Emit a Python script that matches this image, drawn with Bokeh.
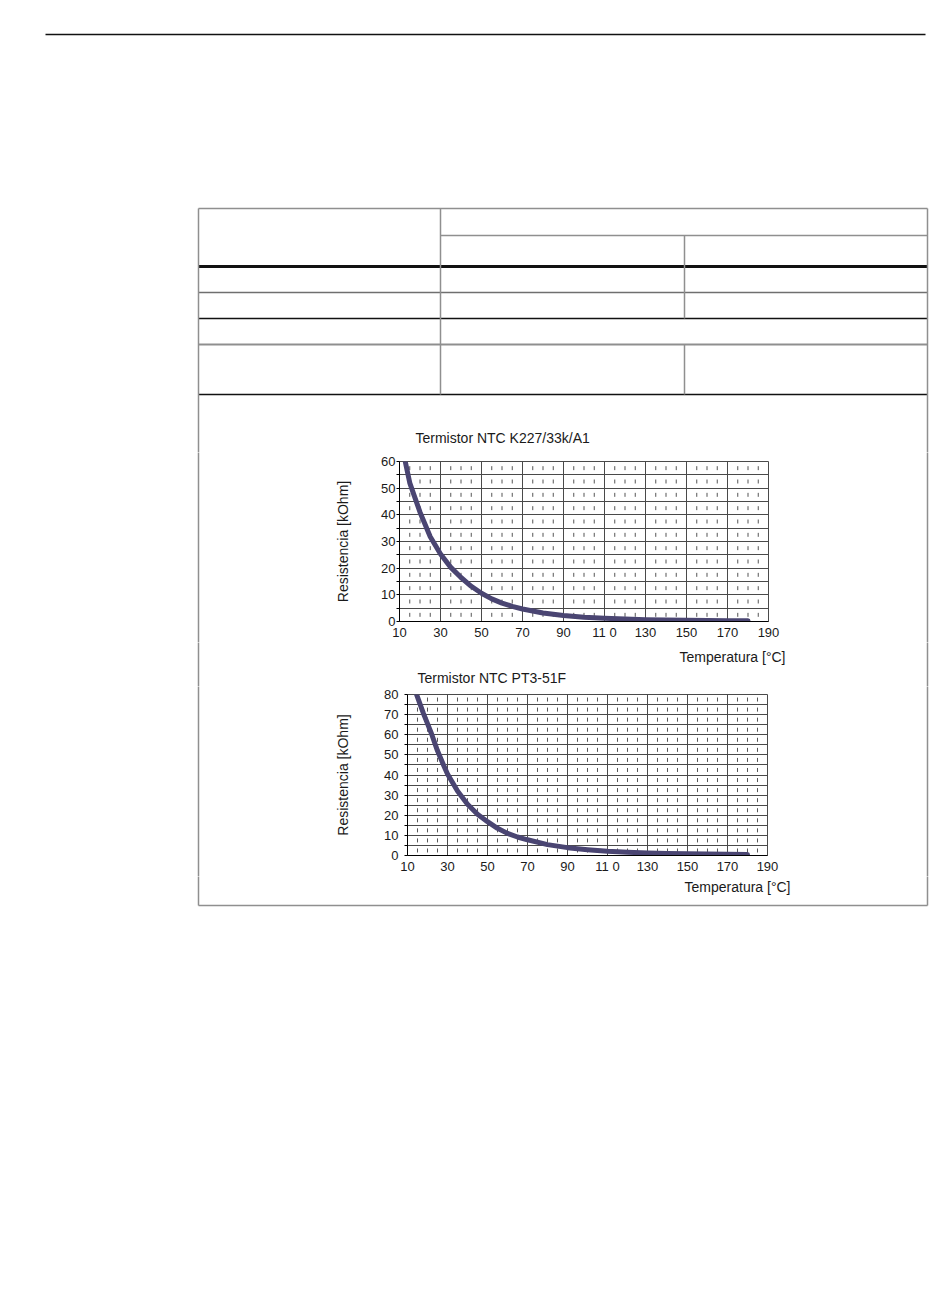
from bokeh.plotting import figure
from bokeh.layouts import column, row
from bokeh.models import FixedTicker, Range1d
from bokeh.core.properties import value
from bokeh.embed import file_html
from bokeh.resources import INLINE

# ---------------- data ----------------
x_ticks = [10, 30, 50, 70, 90, 110, 130, 150, 170, 190]
x_tick_labels = ["10", "30", "50", "70", "90", "11 0", "130", "150", "170", "190"]

k227_title = "Termistor NTC K227/33k/A1"
k227_temp = [12.8, 15, 20, 25, 30, 35, 40, 45, 50, 55, 60, 65, 70, 80, 90, 100,
             110, 120, 130, 140, 150, 160, 170, 180]
k227_res = [60, 52, 41, 31.8, 25.3, 20.3, 16.5, 13.2, 10.6, 8.5, 6.9, 5.7, 4.7,
            3.2, 2.25, 1.6, 1.2, 0.9, 0.7, 0.55, 0.45, 0.38, 0.32, 0.28]
k227_y_ticks = [0, 10, 20, 30, 40, 50, 60]

pt3_title = "Termistor NTC PT3-51F"
pt3_temp = [14, 16, 18, 20, 22, 25, 28, 30, 35, 40, 45, 50, 55, 60, 65, 70, 80,
            90, 100, 110, 120, 130, 140, 150, 160, 170, 180]
pt3_res = [81.5, 76, 70.5, 65.5, 60.5, 52, 45, 40.5, 32, 25.5, 20.5, 16.8, 13.5,
           11, 9.2, 7.8, 5.4, 3.9, 2.9, 2.1, 1.6, 1.25, 1.0, 0.85, 0.7, 0.6, 0.5]
pt3_y_ticks = [0, 10, 20, 30, 40, 50, 60, 70, 80]

x_label = "Temperatura [°C]"
y_label = "Resistencia [kOhm]"

# ---------------- styles ----------------
FONT = "Liberation Sans"
GRID = "#4a4a4a"
CURVE = "#4a4572"
GRAY = "#8f8f8f"
BLACK = "#111111"
TXT = "#1a1a1a"

# page rules of the surrounding document/table (window pixel coordinates)
h_rules = [  # y, x0, x1, color, width
    (34, 45, 925, BLACK, 1.5),
    (208, 198, 927, GRAY, 1.5),
    (235, 440, 927, GRAY, 1.5),
    (266, 198, 927, BLACK, 3),
    (292, 198, 927, "#6f6f6f", 1.5),
    (318, 198, 927, BLACK, 1.5),
    (344, 198, 927, GRAY, 2),
    (394, 198, 927, BLACK, 1.5),
    (905, 198, 927, GRAY, 1.5),
]
v_rules = [  # x, y0, y1, color, width
    (198, 208, 905, GRAY, 1.5),
    (927, 208, 905, GRAY, 1.5),
    (440, 208, 394, GRAY, 1.5),
    (684, 235, 318, GRAY, 1.5),
    (684, 344, 394, GRAY, 1.5),
]
# chart captions placed on the page (x, y, text, align)
captions = [
    (415, 437, k227_title, "left"),
    (785, 656, x_label, "right"),
    (417, 677, pt3_title, "left"),
    (790, 886, x_label, "right"),
]


def deco(x0, x1, y0, y1):
    f = figure(width=x1 - x0, height=y1 - y0, title=None,
               x_range=Range1d(x0, x1), y_range=Range1d(y1, y0),
               x_axis_type=None, y_axis_type=None, frame_align=False,
               output_backend="svg", toolbar_location=None, min_border=0)
    f.outline_line_color = None
    f.background_fill_color = "white"
    f.border_fill_color = "white"
    for (y, a, b, c, w) in h_rules:
        f.segment(x0=[a], y0=[y], x1=[b], y1=[y], line_color=c, line_width=w)
    for (x, a, b, c, w) in v_rules:
        f.segment(x0=[x], y0=[a], x1=[x], y1=[b], line_color=c, line_width=w)
    for (x, y, t, al) in captions:
        if y0 <= y <= y1:
            f.text(x=[x], y=[y], text=[t], text_align=al, text_baseline="middle",
                   text_font=value(FONT), text_font_size="14px", text_color=TXT)
    return f


def minor_between(ticks, step):
    out = []
    for a, b in zip(ticks[:-1], ticks[1:]):
        v = a + step
        while v < b - 1e-9:
            out.append(v)
            v += step
    return out


def chart(temps, res, y_ticks, W, H, bl, br, bt, bb, tick_standoff, label_standoff):
    y_max = y_ticks[-1]
    frame_h = H - bt - bb
    p = figure(width=W, height=H, title=None,
               x_range=Range1d(10, 190), y_range=Range1d(0, y_max),
               output_backend="svg", toolbar_location=None, frame_align=False,
               min_border_left=bl, min_border_right=br,
               min_border_top=bt, min_border_bottom=bb)
    p.background_fill_color = "white"
    p.border_fill_color = "white"
    p.outline_line_color = GRID
    p.outline_line_width = 1

    y_minor = minor_between(y_ticks, 5)
    x_minor = minor_between(x_ticks, 5)
    rows = sorted(y_ticks + y_minor)

    # grids
    p.xgrid.ticker = FixedTicker(ticks=x_ticks)
    p.xgrid.grid_line_color = GRID
    p.xgrid.grid_line_width = 1
    p.ygrid.ticker = FixedTicker(ticks=rows)
    p.ygrid.grid_line_color = GRID
    p.ygrid.grid_line_width = 1

    # short minor-grid dashes in the middle of every 5-unit row
    half = 2.0 / (frame_h / y_max)
    mx, my0, my1 = [], [], []
    for xv in x_minor:
        for a, b in zip(rows[:-1], rows[1:]):
            c = (a + b) / 2
            mx.append(xv)
            my0.append(c - half)
            my1.append(c + half)
    p.segment(x0=mx, y0=my0, x1=mx, y1=my1, line_color="#555555", line_width=1)

    # x axis
    xa = p.xaxis[0]
    xa.ticker = FixedTicker(ticks=x_ticks)
    xa.major_label_overrides = {t: lab for t, lab in zip(x_ticks, x_tick_labels)}
    xa.major_tick_out = 0
    xa.major_tick_in = 0
    xa.minor_tick_out = 0
    xa.minor_tick_in = 0
    xa.major_label_standoff = 3
    xa.axis_line_color = "black"
    xa.major_label_text_font = FONT
    xa.major_label_text_font_size = "13px"
    xa.major_label_text_color = TXT

    # y axis
    ya = p.yaxis[0]
    ya.ticker = FixedTicker(ticks=y_ticks, minor_ticks=y_minor)
    ya.major_tick_out = 3
    ya.major_tick_in = 0
    ya.minor_tick_out = 3
    ya.minor_tick_in = 0
    ya.major_tick_line_color = "black"
    ya.minor_tick_line_color = "black"
    ya.axis_line_color = "black"
    ya.major_label_standoff = tick_standoff
    ya.major_label_text_font = FONT
    ya.major_label_text_font_size = "13px"
    ya.major_label_text_color = TXT
    ya.axis_label = y_label
    ya.axis_label_text_font = FONT
    ya.axis_label_text_font_size = "14px"
    ya.axis_label_text_font_style = "normal"
    ya.axis_label_text_color = TXT
    ya.axis_label_standoff = label_standoff

    # curve
    p.line(temps, res, line_color=CURVE, line_width=5, line_cap="round", line_join="round")
    return p


# chart 1 canvas: x 312..800, y 452..642 ; frame x 399..768, y 461..622
c1 = chart(k227_temp, k227_res, k227_y_ticks, 488, 190, 87, 32, 9, 20, 1, 27)
# chart 2 canvas: x 320..800, y 686..876 ; frame x 407..767, y 694..855
c2 = chart(pt3_temp, pt3_res, pt3_y_ticks, 480, 190, 87, 33, 8, 21, 6, 30)

top = deco(0, 934, 0, 452)
row1 = row(deco(0, 312, 452, 642), c1, deco(800, 934, 452, 642), spacing=0)
mid = deco(0, 934, 642, 686)
row2 = row(deco(0, 320, 686, 876), c2, deco(800, 934, 686, 876), spacing=0)
bottom = deco(0, 934, 876, 1285)

layout = column(top, row1, mid, row2, bottom, spacing=0)

with open("out.html", "w") as fh:
    fh.write(file_html(layout, INLINE))
